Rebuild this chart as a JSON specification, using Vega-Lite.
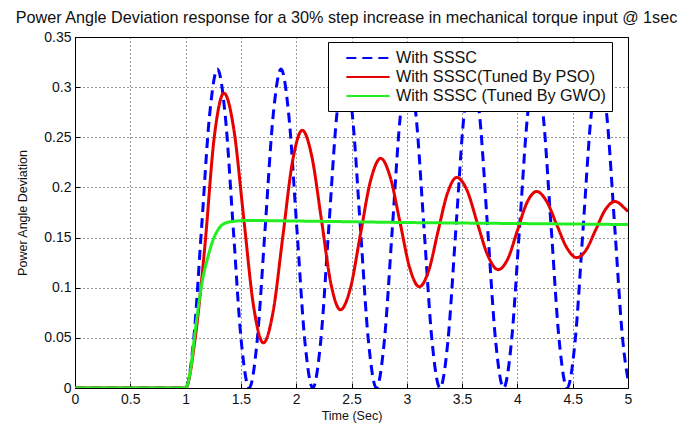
{
  "$schema": "https://vega.github.io/schema/vega-lite/v6.json",
  "width": 553,
  "height": 351,
  "autosize": "none",
  "padding": {"left": 75, "top": 37, "right": 60, "bottom": 36},
  "background": "white",
  "title": {"text": "Power Angle Deviation response for a 30% step increase in mechanical torque input @ 1sec", "fontSize": 16.2, "font": "Liberation Sans", "fontWeight": "normal", "color": "#111", "anchor": "middle", "dx": -5, "offset": 4},
  "config": {
    "view": {"stroke": "#000", "strokeWidth": 1},
    "axis": {
      "labelFont": "Liberation Sans", "titleFont": "Liberation Sans",
      "labelColor": "#111", "titleColor": "#111",
      "titleFontWeight": "normal",
      "domainColor": "#000", "tickColor": "#000",
      "grid": true, "gridColor": "#000", "gridDash": [1, 3], "gridOpacity": 0.8,
      "tickSize": -5, "labelPadding": 9,
      "labelExpr": "'' + datum.value"
    }
  },
  "data": {"values": [
    {"t":0,"v":0,"s":"With SSSC"},{"t":1.0,"v":0,"s":"With SSSC"},{"t":1.072,"v":0.047,"s":"With SSSC"},{"t":1.144,"v":0.159,"s":"With SSSC"},{"t":1.216,"v":0.271,"s":"With SSSC"},{"t":1.288,"v":0.318,"s":"With SSSC"},{"t":1.359,"v":0.271,"s":"With SSSC"},{"t":1.431,"v":0.159,"s":"With SSSC"},{"t":1.503,"v":0.047,"s":"With SSSC"},{"t":1.575,"v":0,"s":"With SSSC"},{"t":1.647,"v":0.047,"s":"With SSSC"},{"t":1.719,"v":0.159,"s":"With SSSC"},{"t":1.791,"v":0.271,"s":"With SSSC"},{"t":1.863,"v":0.318,"s":"With SSSC"},{"t":1.934,"v":0.271,"s":"With SSSC"},{"t":2.006,"v":0.159,"s":"With SSSC"},{"t":2.078,"v":0.047,"s":"With SSSC"},{"t":2.15,"v":0,"s":"With SSSC"},{"t":2.222,"v":0.047,"s":"With SSSC"},{"t":2.294,"v":0.159,"s":"With SSSC"},{"t":2.366,"v":0.271,"s":"With SSSC"},{"t":2.438,"v":0.318,"s":"With SSSC"},{"t":2.509,"v":0.271,"s":"With SSSC"},{"t":2.581,"v":0.159,"s":"With SSSC"},{"t":2.653,"v":0.047,"s":"With SSSC"},{"t":2.725,"v":0,"s":"With SSSC"},{"t":2.797,"v":0.047,"s":"With SSSC"},{"t":2.869,"v":0.159,"s":"With SSSC"},{"t":2.941,"v":0.271,"s":"With SSSC"},{"t":3.013,"v":0.318,"s":"With SSSC"},{"t":3.084,"v":0.271,"s":"With SSSC"},{"t":3.156,"v":0.159,"s":"With SSSC"},{"t":3.228,"v":0.047,"s":"With SSSC"},{"t":3.3,"v":0,"s":"With SSSC"},{"t":3.372,"v":0.047,"s":"With SSSC"},{"t":3.444,"v":0.159,"s":"With SSSC"},{"t":3.516,"v":0.271,"s":"With SSSC"},{"t":3.588,"v":0.318,"s":"With SSSC"},{"t":3.659,"v":0.271,"s":"With SSSC"},{"t":3.731,"v":0.159,"s":"With SSSC"},{"t":3.803,"v":0.047,"s":"With SSSC"},{"t":3.875,"v":0,"s":"With SSSC"},{"t":3.947,"v":0.047,"s":"With SSSC"},{"t":4.019,"v":0.159,"s":"With SSSC"},{"t":4.091,"v":0.271,"s":"With SSSC"},{"t":4.163,"v":0.318,"s":"With SSSC"},{"t":4.234,"v":0.271,"s":"With SSSC"},{"t":4.306,"v":0.159,"s":"With SSSC"},{"t":4.378,"v":0.047,"s":"With SSSC"},{"t":4.45,"v":0,"s":"With SSSC"},{"t":4.522,"v":0.047,"s":"With SSSC"},{"t":4.594,"v":0.159,"s":"With SSSC"},{"t":4.666,"v":0.271,"s":"With SSSC"},{"t":4.738,"v":0.318,"s":"With SSSC"},{"t":4.809,"v":0.271,"s":"With SSSC"},{"t":4.881,"v":0.159,"s":"With SSSC"},{"t":4.953,"v":0.047,"s":"With SSSC"},{"t":5.0,"v":0.008,"s":"With SSSC"},
    {"t":0,"v":0,"s":"With SSSC(Tuned By PSO)"},{"t":1.0,"v":0,"s":"With SSSC(Tuned By PSO)"},{"t":1.087,"v":0.05,"s":"With SSSC(Tuned By PSO)"},{"t":1.173,"v":0.14,"s":"With SSSC(Tuned By PSO)"},{"t":1.26,"v":0.251,"s":"With SSSC(Tuned By PSO)"},{"t":1.347,"v":0.294,"s":"With SSSC(Tuned By PSO)"},{"t":1.436,"v":0.258,"s":"With SSSC(Tuned By PSO)"},{"t":1.525,"v":0.17,"s":"With SSSC(Tuned By PSO)"},{"t":1.614,"v":0.082,"s":"With SSSC(Tuned By PSO)"},{"t":1.703,"v":0.045,"s":"With SSSC(Tuned By PSO)"},{"t":1.791,"v":0.076,"s":"With SSSC(Tuned By PSO)"},{"t":1.879,"v":0.151,"s":"With SSSC(Tuned By PSO)"},{"t":1.967,"v":0.226,"s":"With SSSC(Tuned By PSO)"},{"t":2.055,"v":0.257,"s":"With SSSC(Tuned By PSO)"},{"t":2.141,"v":0.231,"s":"With SSSC(Tuned By PSO)"},{"t":2.228,"v":0.168,"s":"With SSSC(Tuned By PSO)"},{"t":2.314,"v":0.104,"s":"With SSSC(Tuned By PSO)"},{"t":2.4,"v":0.078,"s":"With SSSC(Tuned By PSO)"},{"t":2.491,"v":0.1,"s":"With SSSC(Tuned By PSO)"},{"t":2.582,"v":0.154,"s":"With SSSC(Tuned By PSO)"},{"t":2.673,"v":0.207,"s":"With SSSC(Tuned By PSO)"},{"t":2.764,"v":0.229,"s":"With SSSC(Tuned By PSO)"},{"t":2.851,"v":0.21,"s":"With SSSC(Tuned By PSO)"},{"t":2.939,"v":0.165,"s":"With SSSC(Tuned By PSO)"},{"t":3.026,"v":0.12,"s":"With SSSC(Tuned By PSO)"},{"t":3.113,"v":0.101,"s":"With SSSC(Tuned By PSO)"},{"t":3.198,"v":0.117,"s":"With SSSC(Tuned By PSO)"},{"t":3.282,"v":0.156,"s":"With SSSC(Tuned By PSO)"},{"t":3.367,"v":0.194,"s":"With SSSC(Tuned By PSO)"},{"t":3.451,"v":0.21,"s":"With SSSC(Tuned By PSO)"},{"t":3.545,"v":0.197,"s":"With SSSC(Tuned By PSO)"},{"t":3.639,"v":0.164,"s":"With SSSC(Tuned By PSO)"},{"t":3.733,"v":0.132,"s":"With SSSC(Tuned By PSO)"},{"t":3.827,"v":0.118,"s":"With SSSC(Tuned By PSO)"},{"t":3.914,"v":0.129,"s":"With SSSC(Tuned By PSO)"},{"t":4.0,"v":0.157,"s":"With SSSC(Tuned By PSO)"},{"t":4.087,"v":0.185,"s":"With SSSC(Tuned By PSO)"},{"t":4.174,"v":0.196,"s":"With SSSC(Tuned By PSO)"},{"t":4.265,"v":0.186,"s":"With SSSC(Tuned By PSO)"},{"t":4.355,"v":0.163,"s":"With SSSC(Tuned By PSO)"},{"t":4.446,"v":0.14,"s":"With SSSC(Tuned By PSO)"},{"t":4.536,"v":0.13,"s":"With SSSC(Tuned By PSO)"},{"t":4.623,"v":0.138,"s":"With SSSC(Tuned By PSO)"},{"t":4.709,"v":0.158,"s":"With SSSC(Tuned By PSO)"},{"t":4.796,"v":0.178,"s":"With SSSC(Tuned By PSO)"},{"t":4.882,"v":0.186,"s":"With SSSC(Tuned By PSO)"},{"t":4.972,"v":0.179,"s":"With SSSC(Tuned By PSO)"},{"t":5.0,"v":0.176,"s":"With SSSC(Tuned By PSO)"},
    {"t":0,"v":0,"s":"With SSSC (Tuned By GWO)"},{"t":1.0,"v":0,"s":"With SSSC (Tuned By GWO)"},{"t":1.04,"v":0.015,"s":"With SSSC (Tuned By GWO)"},{"t":1.085,"v":0.055,"s":"With SSSC (Tuned By GWO)"},{"t":1.145,"v":0.103,"s":"With SSSC (Tuned By GWO)"},{"t":1.2,"v":0.13,"s":"With SSSC (Tuned By GWO)"},{"t":1.25,"v":0.148,"s":"With SSSC (Tuned By GWO)"},{"t":1.3,"v":0.159,"s":"With SSSC (Tuned By GWO)"},{"t":1.35,"v":0.164,"s":"With SSSC (Tuned By GWO)"},{"t":1.42,"v":0.166,"s":"With SSSC (Tuned By GWO)"},{"t":1.55,"v":0.167,"s":"With SSSC (Tuned By GWO)"},{"t":2.0,"v":0.1665,"s":"With SSSC (Tuned By GWO)"},{"t":3.0,"v":0.165,"s":"With SSSC (Tuned By GWO)"},{"t":4.0,"v":0.164,"s":"With SSSC (Tuned By GWO)"},{"t":5.0,"v":0.163,"s":"With SSSC (Tuned By GWO)"}
  ]},
  "mark": {"type": "line", "interpolate": "monotone", "strokeWidth": 3, "clip": true},
  "encoding": {
    "x": {"field": "t", "type": "quantitative", "scale": {"domain": [0, 5], "nice": false, "zero": false},
      "axis": {"title": "Time (Sec)", "values": [0,0.5,1,1.5,2,2.5,3,3.5,4,4.5,5], "labelFontSize": 14, "titleFontSize": 12.5, "titlePadding": 3, "labelFlush": false}},
    "y": {"field": "v", "type": "quantitative", "scale": {"domain": [0, 0.35], "nice": false},
      "axis": {"title": "Power Angle Deviation", "values": [0,0.05,0.1,0.15,0.2,0.25,0.3,0.35], "labelFontSize": 14, "titleFontSize": 12.5, "titlePadding": 14, "labelFlush": false}},
    "color": {"field": "s", "type": "nominal",
      "scale": {"domain": ["With SSSC", "With SSSC(Tuned By PSO)", "With SSSC (Tuned By GWO)"], "range": ["#0000ff", "#e60000", "#22ee22"]},
      "legend": {"title": null, "orient": "none", "legendX": 253, "legendY": 5, "fillColor": "white", "strokeColor": "#000", "padding": 6, "symbolOffset": 24, "labelOffset": 18, "labelFontSize": 16.2, "labelFont": "Liberation Sans", "labelColor": "#111", "labelLimit": 0, "symbolType": "M-2.5,0H2.5", "symbolSize": 300, "symbolStrokeWidth": 2, "rowPadding": 0}},
    "strokeDash": {"field": "s", "type": "nominal",
      "scale": {"domain": ["With SSSC", "With SSSC(Tuned By PSO)", "With SSSC (Tuned By GWO)"], "range": [[10, 6], [1, 0], [1, 0]]},
      "legend": {"title": null, "orient": "none", "legendX": 253, "legendY": 5, "fillColor": "white", "strokeColor": "#000", "padding": 6, "symbolOffset": 24, "labelOffset": 18, "labelFontSize": 16.2, "labelFont": "Liberation Sans", "labelColor": "#111", "labelLimit": 0, "symbolType": "M-2.5,0H2.5", "symbolSize": 300, "symbolStrokeWidth": 2, "rowPadding": 0}},
    "order": {"field": "t", "type": "quantitative"}
  }
}
